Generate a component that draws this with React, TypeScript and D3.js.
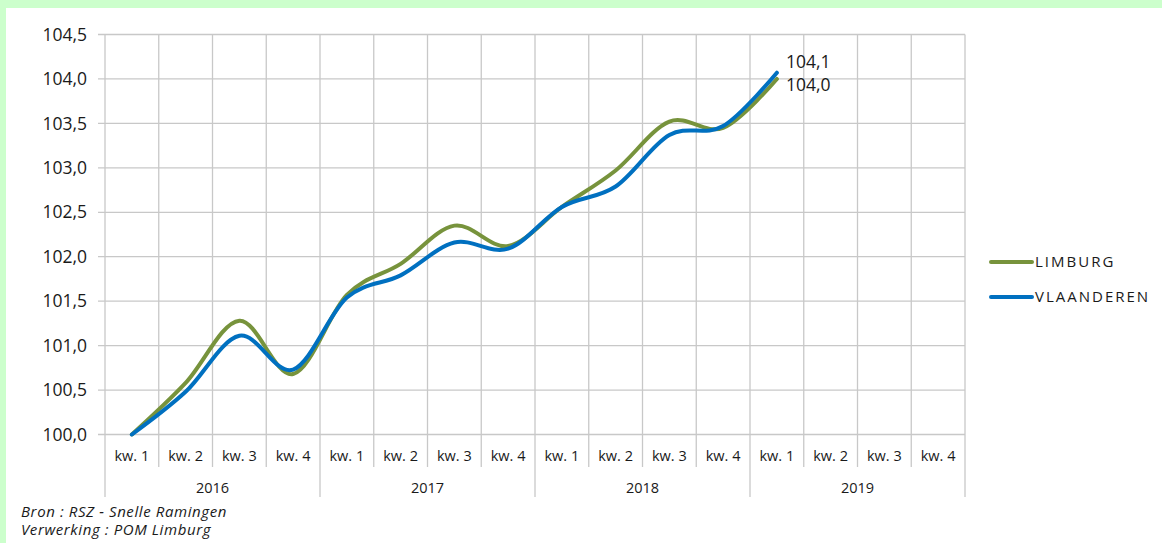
import React from "react";
import * as d3 from "d3";

const years = ["2016", "2017", "2018", "2019"];
const quarters = ["kw. 1", "kw. 2", "kw. 3", "kw. 4"];
const limburg = [100.0, 100.58, 101.28, 100.68, 101.57, 101.92, 102.35, 102.12, 102.56, 102.97, 103.52, 103.45, 104.0];
const vlaanderen = [100.0, 100.48, 101.11, 100.73, 101.54, 101.79, 102.16, 102.09, 102.56, 102.79, 103.37, 103.47, 104.07];
const yTicks = [100, 100.5, 101, 101.5, 102, 102.5, 103, 103.5, 104, 104.5];
const seriesNames = ["LIMBURG", "VLAANDEREN"];
const colors = ["#77933C", "#0070C0"];

const W = 1162, H = 543;
const left = 105, right = 965, top = 34.5, bottom = 434.5;
const FONT = "'Open Sans', Lato, sans-serif";

export default function App() {
  const cats = years.flatMap((y) => quarters.map((q) => `${y}-${q}`));
  const x = d3.scaleBand().domain(cats).range([left, right]);
  const y = d3.scaleLinear().domain([100, 104.5]).range([bottom, top]);
  const fmt = (v: number) => d3.format(".1f")(v).replace(".", ",");
  const line = d3
    .line<number>()
    .x((_, i) => (x(cats[i]) as number) + x.bandwidth() / 2)
    .y((d) => y(d))
    .curve(d3.curveCatmullRom.alpha(0));
  const bw = x.bandwidth();
  const boundaries = d3.range(cats.length + 1).map((i) => left + i * bw);
  const series = [limburg, vlaanderen];
  const lastX = (x(cats[12]) as number) + bw / 2;

  return (
    <svg width={W} height={H} style={{ position: "absolute", left: 0, top: 0 }} fontFamily={FONT}>
      <rect x={0} y={0} width={W} height={H} fill="#CCFFCC" />
      <rect x={6} y={8} width={W - 6} height={H - 8} fill="#ffffff" />
      {yTicks.map((t) => (
        <g key={t}>
          <line x1={98} x2={right} y1={y(t)} y2={y(t)} stroke="#c8c8c8" strokeWidth={1.3} />
          <text x={87} y={y(t)} dy="0.35em" textAnchor="end" fontSize={17.5} fill="#1a1a1a">
            {fmt(t)}
          </text>
        </g>
      ))}
      {boundaries.map((bx, i) => (
        <line
          key={i}
          x1={bx}
          x2={bx}
          y1={top}
          y2={i % 4 === 0 ? 497 : 467}
          stroke="#c8c8c8"
          strokeWidth={1.3}
        />
      ))}
      {cats.map((c, i) => (
        <text
          key={c}
          x={(x(c) as number) + bw / 2}
          y={456}
          dy="0.35em"
          textAnchor="middle"
          fontSize={14.5}
          fill="#1a1a1a"
        >
          {quarters[i % 4]}
        </text>
      ))}
      {years.map((yr, i) => (
        <text
          key={yr}
          x={left + (i * 4 + 2) * bw}
          y={488}
          dy="0.35em"
          textAnchor="middle"
          fontSize={14.5}
          fill="#1a1a1a"
        >
          {yr}
        </text>
      ))}
      {series.map((s, i) => (
        <path key={i} d={line(s) as string} fill="none" stroke={colors[i]} strokeWidth={4} strokeLinecap="round" />
      ))}
      <text x={lastX + 9} y={62} dy="0.35em" fontSize={17.5} fill="#1a1a1a">
        {fmt(vlaanderen[12])}
      </text>
      <text x={lastX + 9} y={85} dy="0.35em" fontSize={17.5} fill="#1a1a1a">
        {fmt(limburg[12])}
      </text>
      {seriesNames.map((n, i) => (
        <g key={n}>
          <line x1={991} x2={1032} y1={262 + i * 35} y2={262 + i * 35} stroke={colors[i]} strokeWidth={4} strokeLinecap="round" />
          <text x={1035} y={262 + i * 35} dy="0.35em" fontSize={15} fill="#1a1a1a" letterSpacing={2}>
            {n}
          </text>
        </g>
      ))}
      <text x={21} y={512} dy="0.35em" fontSize={15} fontStyle="italic" fill="#1a1a1a" letterSpacing={0.6}>
        Bron : RSZ - Snelle Ramingen
      </text>
      <text x={21} y={530} dy="0.35em" fontSize={15} fontStyle="italic" fill="#1a1a1a" letterSpacing={0.6}>
        Verwerking : POM Limburg
      </text>
    </svg>
  );
}
